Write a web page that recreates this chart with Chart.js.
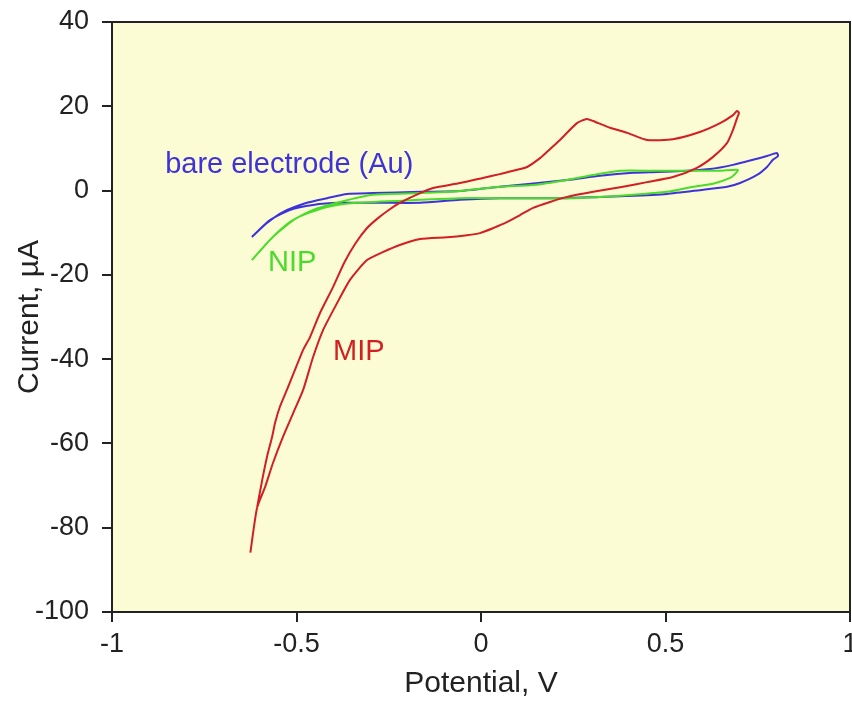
<!DOCTYPE html>
<html>
<head>
<meta charset="utf-8">
<script src="https://cdn.jsdelivr.net/npm/chart.js@4/dist/chart.umd.min.js"></script>
<style>
    html, body { margin: 0; padding: 0; background: #fff; }
    #wrap { width: 852px; height: 704px; position: relative; }
</style>
</head>
<body>
<div id="wrap"><canvas id="cv"></canvas></div>
<script>
// Cyclic voltammograms: potential (V) vs current (uA)
const mipV = [-0.625, -0.607, -0.585, -0.564, -0.537, -0.509, -0.482, -0.455, -0.428, -0.390, -0.355, -0.309, -0.266, -0.220, -0.165, -0.092, -0.038, -0.003, 0.033, 0.070, 0.106, 0.141, 0.187, 0.233, 0.304, 0.385, 0.450, 0.520, 0.585, 0.629, 0.667, 0.683, 0.694, 0.699, 0.694,
    0.683, 0.648, 0.593, 0.520, 0.450, 0.396, 0.350, 0.304, 0.287, 0.260, 0.214, 0.179, 0.160, 0.125, 0.087, 0.051, 0.005, -0.057, -0.130, -0.165, -0.220, -0.250, -0.280, -0.310, -0.340, -0.370, -0.401, -0.436, -0.463, -0.482, -0.526, -0.545, -0.558, -0.566, -0.580, -0.593, -0.607];
const mipI = [-85.9, -75.3, -70.3, -64.7, -58.5, -52.8, -47.3, -39.5, -33.1, -26.7, -21.2, -16.5, -14.6, -12.9, -11.5, -11.1, -10.6, -10.1, -8.9, -7.5, -5.8, -4.1, -2.7, -1.5, -0.3, 0.9, 2.0, 3.2, 5.4, 8.0, 11.3, 14.4, 17.2, 18.4, 18.9,
    17.9, 16.0, 13.9, 12.2, 12.0, 13.7, 14.9, 16.5, 17.0, 16.0, 12.0, 9.2, 7.7, 5.6, 4.7, 3.9, 3.0, 1.8, 0.6, -0.6, -2.9, -4.6, -6.6, -9.0, -12.5, -17.0, -22.9, -29.0, -34.7, -37.8, -47.3, -51.3, -55.1, -58.4, -63.2, -68.7, -75.3];

const nipV = [-0.621, -0.572, -0.518, -0.455, -0.382, -0.293, -0.165, -0.057, 0.051, 0.141, 0.233, 0.304, 0.377, 0.466, 0.558, 0.648, 0.696,
    0.688, 0.675, 0.629, 0.575, 0.504, 0.412, 0.322, 0.233, 0.051, -0.057, -0.165, -0.336, -0.417, -0.499, -0.564, -0.621];
const nipI = [-16.5, -11.7, -7.5, -4.6, -2.7, -1.0, -0.6, -0.1, 0.9, 1.3, 2.5, 3.7, 4.7, 4.7, 4.7, 4.7, 4.9,
    3.9, 3.0, 1.6, 0.9, -0.3, -1.0, -1.5, -1.8, -1.8, -1.8, -2.2, -2.9, -3.9, -6.5, -11.0, -16.5];

const bareV = [-0.621, -0.580, -0.537, -0.472, -0.417, -0.363, -0.293, -0.165, -0.057, 0.051, 0.233, 0.322, 0.412, 0.477, 0.558, 0.621, 0.683, 0.737, 0.775, 0.802,
    0.805, 0.791, 0.775, 0.748, 0.702, 0.667, 0.593, 0.504, 0.396, 0.322, 0.233, 0.051, -0.057, -0.165, -0.274, -0.382, -0.455, -0.518, -0.572, -0.621];
const bareI = [-11.0, -7.7, -5.1, -2.9, -1.8, -0.8, -0.6, -0.3, -0.1, 0.9, 2.5, 3.5, 4.2, 4.4, 4.7, 5.1, 6.1, 7.3, 8.2, 8.9,
    8.2, 7.3, 5.6, 3.7, 1.8, 0.9, 0.1, -0.8, -1.3, -1.5, -1.8, -1.8, -2.2, -2.9, -2.9, -2.9, -3.4, -4.6, -7.0, -11.0];

const xTicks = [-1, -0.5, 0, 0.5, 1];
const yTicks = [-100, -80, -60, -40, -20, 0, 20, 40];

const RED = '#d11f24', GREEN = '#4bdc2b', BLUE = '#3f32d8';
const FONT = "'Liberation Sans', Arial, Helvetica, sans-serif";

function toPoints(xs, ys) {
    return xs.map((x, i) => ({x: x, y: ys[i]}));
}

function curve(label, xs, ys, color) {
    return {
        label: label,
        data: toPoints(xs, ys),
        showLine: true,
        borderColor: color,
        borderWidth: 2,
        pointRadius: 0,
        tension: 0.2,
        fill: false
    };
}

// text labels placed in data units next to each curve
const curveLabels = [
    {text: 'bare electrode (Au)', x: -0.856, y: 4.2, color: BLUE},
    {text: 'NIP', x: -0.577, y: -19.1, color: GREEN},
    {text: 'MIP', x: -0.401, y: -40.2, color: RED}
];

const plotFrame = {
    id: 'plotFrame',
    beforeDraw(chart) {
        const a = chart.chartArea, c = chart.ctx;
        c.save();
        c.fillStyle = '#fbfcd4';
        c.fillRect(a.left, a.top, a.right - a.left, a.bottom - a.top);
        c.restore();
    },
    afterDraw(chart) {
        const a = chart.chartArea, c = chart.ctx;
        const sx = chart.scales.x, sy = chart.scales.y;
        c.save();
        c.strokeStyle = '#222';
        c.lineWidth = 2;
        c.strokeRect(a.left, a.top, a.right - a.left, a.bottom - a.top);
        c.font = '29px ' + FONT;
        c.textAlign = 'left';
        c.textBaseline = 'alphabetic';
        curveLabels.forEach(l => {
            c.fillStyle = l.color;
            c.fillText(l.text, sx.getPixelForValue(l.x), sy.getPixelForValue(l.y));
        });
        c.restore();
    }
};

const tickStyle = {color: '#222', font: {family: FONT, size: 27}, callback: v => String(v)};

new Chart(document.getElementById('cv'), {
    type: 'scatter',
    data: {
        datasets: [
            curve('MIP', mipV, mipI, RED),
            curve('NIP', nipV, nipI, GREEN),
            curve('bare electrode (Au)', bareV, bareI, BLUE)
        ]
    },
    options: {
        responsive: true,
        maintainAspectRatio: false,
        animation: false,
        layout: {padding: {top: 22, right: 2, left: 0, bottom: 0}},
        plugins: {legend: {display: false}, tooltip: {enabled: false}},
        scales: {
            x: {
                type: 'linear', min: -1, max: 1,
                afterBuildTicks: s => { s.ticks = xTicks.map(v => ({value: v})); },
                ticks: Object.assign({padding: 6, maxRotation: 0}, tickStyle),
                grid: {display: true, drawOnChartArea: false, drawTicks: true, tickLength: 10, color: '#222', lineWidth: 2},
                border: {display: true, color: '#222', width: 2},
                title: {display: true, text: 'Potential, V', color: '#222', font: {family: FONT, size: 30}, padding: {top: 0, bottom: 2}},
                afterFit: s => { s.height = 92; s.paddingLeft = 0; s.paddingRight = 0; }
            },
            y: {
                type: 'linear', min: -100, max: 40,
                afterBuildTicks: s => { s.ticks = yTicks.map(v => ({value: v})); },
                ticks: Object.assign({padding: 13}, tickStyle),
                grid: {display: true, drawOnChartArea: false, drawTicks: true, tickLength: 10, color: '#222', lineWidth: 2},
                border: {display: true, color: '#222', width: 2},
                title: {display: true, text: 'Current, µA', color: '#222', font: {family: FONT, size: 30}, padding: {top: 12, bottom: 0}},
                afterFit: s => { s.width = 112; s.paddingTop = 0; s.paddingBottom = 0; }
            }
        }
    },
    plugins: [plotFrame]
});
</script>
</body>
</html>
